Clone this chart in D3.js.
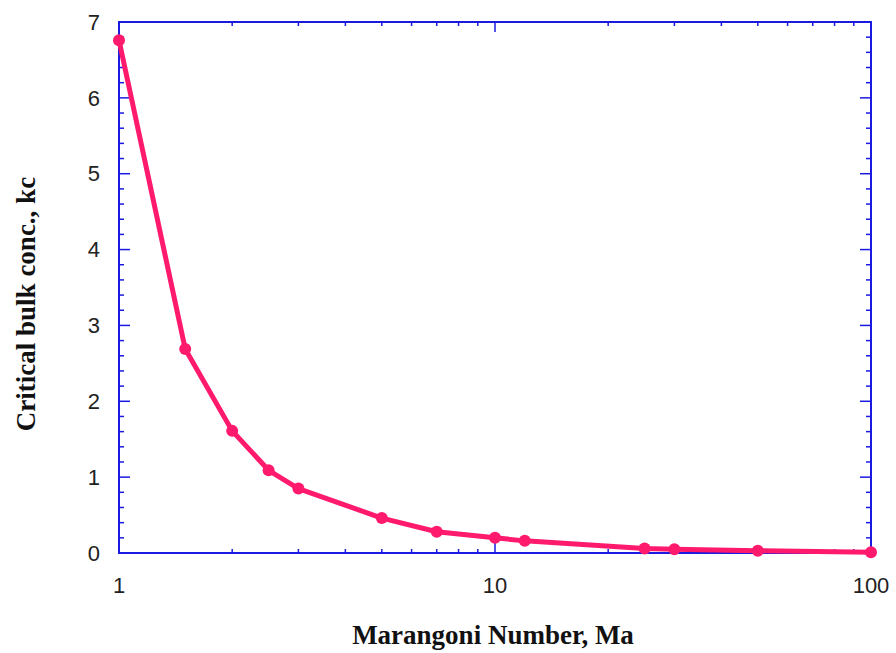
<!DOCTYPE html>
<html>
<head>
<meta charset="utf-8">
<script src="https://cdn.jsdelivr.net/npm/d3@7"></script>
<style>
  body { margin: 0; background: #fff; }
  svg { display: block; }
</style>
</head>
<body>
<div id="chart"></div>
<script>
// data
var maNumbers = [1, 1.5, 2, 2.5, 3, 5, 7, 10, 12, 25, 30, 50, 100];
var kcValues = [6.76, 2.69, 1.61, 1.09, 0.85, 0.46, 0.28, 0.2, 0.16, 0.06, 0.05, 0.03, 0.01];
var xTickLabels = [1, 10, 100];
var yTickLabels = [0, 1, 2, 3, 4, 5, 6, 7];

var width = 896, height = 653;
var margin = { left: 119, right: 25, top: 22, bottom: 100 };
var axisColor = "#1a1ae0";
var lineColor = "#ff1a6e";

var svg = d3.select("#chart").append("svg")
  .attr("width", width)
  .attr("height", height);

var x = d3.scaleLog().domain([1, 100]).range([margin.left, width - margin.right]);
var y = d3.scaleLinear().domain([0, 7]).range([height - margin.bottom, margin.top]);

var x0 = x.range()[0], x1 = x.range()[1];
var y0 = y.range()[0], y1 = y.range()[1];

// minor / major ticks
var xMinor = [];
[1, 10].forEach(function(d) {
  for (var k = 2; k <= 9; k++) xMinor.push(d * k);
});
var yMinor = d3.range(0, 7.001, 0.2).filter(function(v) {
  return Math.abs(v - Math.round(v)) > 0.01;
});

var ticks = svg.append("g").attr("stroke", axisColor).attr("stroke-width", 1.5);

// bottom + top
xMinor.forEach(function(v) {
  ticks.append("line").attr("x1", x(v)).attr("x2", x(v)).attr("y1", y0).attr("y2", y0 - 4);
  ticks.append("line").attr("x1", x(v)).attr("x2", x(v)).attr("y1", y1).attr("y2", y1 + 4);
});
xTickLabels.forEach(function(v) {
  ticks.append("line").attr("x1", x(v)).attr("x2", x(v)).attr("y1", y0).attr("y2", y0 - 10);
  ticks.append("line").attr("x1", x(v)).attr("x2", x(v)).attr("y1", y1).attr("y2", y1 + 10);
});
// left + right
yMinor.forEach(function(v) {
  ticks.append("line").attr("x1", x0).attr("x2", x0 + 5).attr("y1", y(v)).attr("y2", y(v));
  ticks.append("line").attr("x1", x1).attr("x2", x1 - 5).attr("y1", y(v)).attr("y2", y(v));
});
yTickLabels.forEach(function(v) {
  ticks.append("line").attr("x1", x0).attr("x2", x0 + 11).attr("y1", y(v)).attr("y2", y(v));
  ticks.append("line").attr("x1", x1).attr("x2", x1 - 11).attr("y1", y(v)).attr("y2", y(v));
});

// frame
svg.append("rect")
  .attr("x", x0).attr("y", y1)
  .attr("width", x1 - x0).attr("height", y0 - y1)
  .attr("fill", "none")
  .attr("stroke", axisColor)
  .attr("stroke-width", 2);

// tick labels
svg.append("g").selectAll("text").data(xTickLabels).join("text")
  .attr("x", function(d) { return x(d); })
  .attr("y", y0 + 40)
  .attr("text-anchor", "middle")
  .attr("font-family", "Liberation Sans, Arial, sans-serif")
  .attr("font-size", 22)
  .attr("fill", "#222")
  .text(function(d) { return d; });

svg.append("g").selectAll("text").data(yTickLabels).join("text")
  .attr("x", x0 - 19)
  .attr("y", function(d) { return y(d); })
  .attr("dy", "0.35em")
  .attr("text-anchor", "end")
  .attr("font-family", "Liberation Sans, Arial, sans-serif")
  .attr("font-size", 22)
  .attr("fill", "#222")
  .text(function(d) { return d; });

// axis titles
svg.append("text")
  .attr("x", 493)
  .attr("y", 644)
  .attr("text-anchor", "middle")
  .attr("font-family", "Liberation Serif, Times New Roman, serif")
  .attr("font-weight", "bold")
  .attr("font-size", 27)
  .attr("fill", "#111")
  .text("Marangoni Number, Ma");

svg.append("text")
  .attr("transform", "translate(35,304) rotate(-90)")
  .attr("text-anchor", "middle")
  .attr("font-family", "Liberation Serif, Times New Roman, serif")
  .attr("font-weight", "bold")
  .attr("font-size", 27)
  .attr("fill", "#111")
  .text("Critical bulk conc., kc");

// series
var pts = maNumbers.map(function(m, i) { return [m, kcValues[i]]; });
var line = d3.line()
  .x(function(d) { return x(d[0]); })
  .y(function(d) { return y(d[1]); });

svg.append("path")
  .datum(pts)
  .attr("d", line)
  .attr("fill", "none")
  .attr("stroke", lineColor)
  .attr("stroke-width", 5)
  .attr("stroke-linejoin", "round");

svg.append("g").selectAll("circle").data(pts).join("circle")
  .attr("cx", function(d) { return x(d[0]); })
  .attr("cy", function(d) { return y(d[1]); })
  .attr("r", 6)
  .attr("fill", lineColor);
</script>
</body>
</html>
